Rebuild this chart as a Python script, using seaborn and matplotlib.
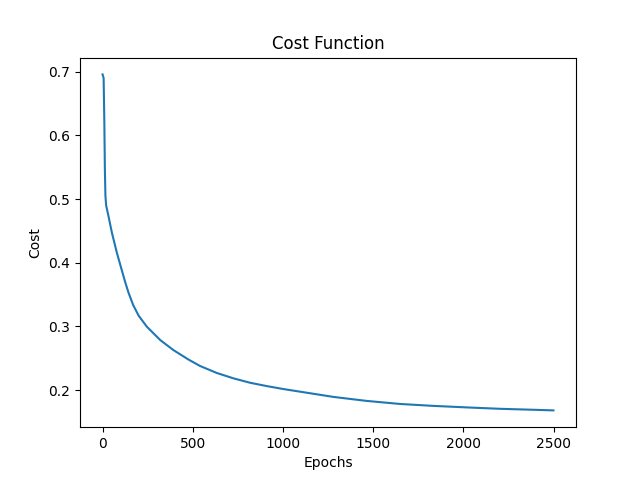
import matplotlib
matplotlib.use("Agg")
import matplotlib.pyplot as plt
import seaborn as sns
import pandas as pd

epocas = [0, 2, 6, 10, 13, 16, 20, 33, 52, 80, 107, 125, 144, 170, 200, 246,
          320, 393, 476, 541, 634, 726, 818, 910, 1003, 1095, 1279, 1464,
          1649, 1833, 2018, 2203, 2387, 2499]
costes = [0.6958, 0.694, 0.690, 0.620, 0.545, 0.505, 0.490, 0.473, 0.447,
          0.415, 0.388, 0.370, 0.3529, 0.3334, 0.3169, 0.2994, 0.2785,
          0.2628, 0.2480, 0.2378, 0.2268, 0.2184, 0.2115, 0.2063, 0.2016,
          0.1975, 0.1893, 0.1830, 0.1782, 0.1752, 0.1728, 0.1706, 0.1691,
          0.1681]

df = pd.DataFrame({"Epochs": epocas, "Cost": costes})

fig, ax = plt.subplots(figsize=(6.4, 4.8), dpi=100)
sns.lineplot(data=df, x="Epochs", y="Cost", color="#1f77b4", linewidth=1.5, ax=ax)
ax.set_title("Cost Function")
ax.set_xlabel("Epochs")
ax.set_ylabel("Cost")
fig.savefig("out.png")
